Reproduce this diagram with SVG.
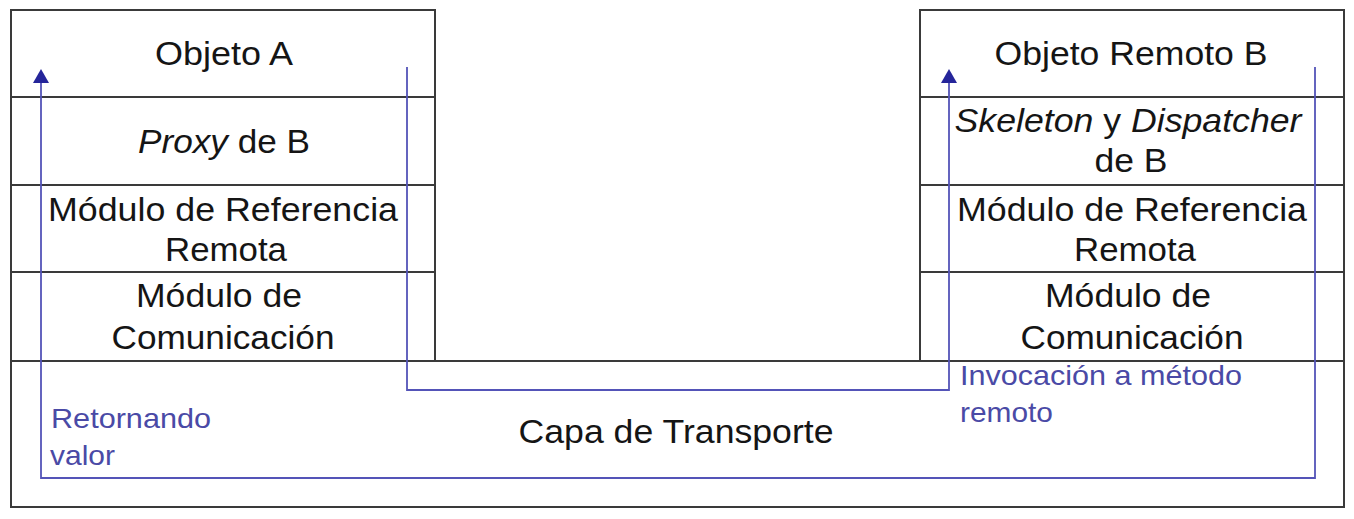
<svg xmlns="http://www.w3.org/2000/svg" width="1354" height="519" viewBox="0 0 1354 519">
<style>
.box{fill:#fff;stroke:#3a3a3a;stroke-width:2}
.div{stroke:#3a3a3a;stroke-width:2}
.t{font-family:"Liberation Sans",Arial,sans-serif;font-size:33px;fill:#151515;text-anchor:middle}
.i{font-style:italic}
.lbl{font-family:"Liberation Sans",Arial,sans-serif;font-size:28px;fill:#4a4aa6}
.flow{fill:none;stroke:#5454b8;stroke-width:1.8}
</style>
<defs>
<marker id="ah" viewBox="0 0 14 16" refX="2" refY="8" markerWidth="14" markerHeight="16" markerUnits="userSpaceOnUse" orient="auto">
<path d="M0,0 L14,8 L0,16 z" fill="#25259a"/>
</marker>
</defs>
<rect width="1354" height="519" fill="#fff"/>
<g id="transporte">
<rect class="box" x="11" y="361" width="1333" height="146"/>
<text class="t" x="676" y="443" textLength="315" lengthAdjust="spacingAndGlyphs">Capa de Transporte</text>
</g>
<g id="pila-a">
<rect class="box" x="11" y="10" width="424" height="351"/>
<line class="div" x1="11" y1="97" x2="435" y2="97"/>
<line class="div" x1="11" y1="185" x2="435" y2="185"/>
<line class="div" x1="11" y1="272" x2="435" y2="272"/>
<text class="t" x="224" y="65" textLength="138" lengthAdjust="spacingAndGlyphs">Objeto A</text>
<text class="t" x="224" y="153" textLength="172" lengthAdjust="spacingAndGlyphs"><tspan class="i">Proxy</tspan> de B</text>
<text class="t" x="223" y="221" textLength="350" lengthAdjust="spacingAndGlyphs">Módulo de Referencia</text>
<text class="t" x="226" y="261" textLength="122" lengthAdjust="spacingAndGlyphs">Remota</text>
<text class="t" x="219" y="307" textLength="166" lengthAdjust="spacingAndGlyphs">Módulo de</text>
<text class="t" x="223" y="349" textLength="223" lengthAdjust="spacingAndGlyphs">Comunicación</text>
</g>
<g id="pila-b">
<rect class="box" x="920" y="10" width="424" height="351"/>
<line class="div" x1="920" y1="97" x2="1344" y2="97"/>
<line class="div" x1="920" y1="185" x2="1344" y2="185"/>
<line class="div" x1="920" y1="272" x2="1344" y2="272"/>
<text class="t" x="1131" y="65" textLength="273" lengthAdjust="spacingAndGlyphs">Objeto Remoto B</text>
<text class="t" x="1128" y="132" textLength="347" lengthAdjust="spacingAndGlyphs"><tspan class="i">Skeleton</tspan> y <tspan class="i">Dispatcher</tspan></text>
<text class="t" x="1131" y="172" textLength="73" lengthAdjust="spacingAndGlyphs">de B</text>
<text class="t" x="1132" y="221" textLength="350" lengthAdjust="spacingAndGlyphs">Módulo de Referencia</text>
<text class="t" x="1135" y="261" textLength="122" lengthAdjust="spacingAndGlyphs">Remota</text>
<text class="t" x="1128" y="307" textLength="166" lengthAdjust="spacingAndGlyphs">Módulo de</text>
<text class="t" x="1132" y="349" textLength="223" lengthAdjust="spacingAndGlyphs">Comunicación</text>
</g>
<g id="conectores">
<path class="flow" d="M407,67 V390 H949 V81" marker-end="url(#ah)"/>
<path class="flow" d="M1315,67 V478 H41 V81" marker-end="url(#ah)"/>
<text class="lbl" x="960" y="385" textLength="282" lengthAdjust="spacingAndGlyphs">Invocación a método</text>
<text class="lbl" x="960" y="422" textLength="93" lengthAdjust="spacingAndGlyphs">remoto</text>
<text class="lbl" x="51" y="428" textLength="160" lengthAdjust="spacingAndGlyphs">Retornando</text>
<text class="lbl" x="50" y="465" textLength="65" lengthAdjust="spacingAndGlyphs">valor</text>
</g>
</svg>
